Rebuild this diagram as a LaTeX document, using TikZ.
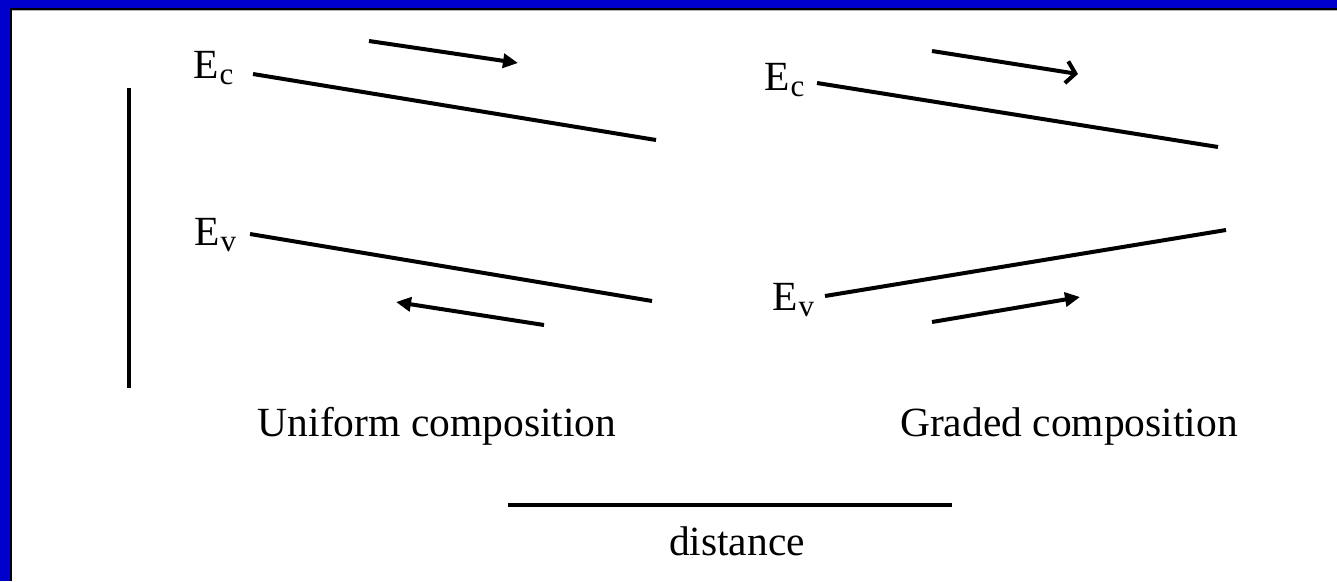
\documentclass[tikz,border=0pt]{standalone}
\usepackage{fontspec}
\setmainfont{Liberation Serif}
\usetikzlibrary{arrows.meta}
\definecolor{framblue}{RGB}{0,0,204}
\tikzset{
  band/.style={line width=4pt, line cap=butt},
  carrier/.style={line width=4pt, -{Triangle[length=15pt,width=14pt]}},
  opencarrier/.style={line width=4pt, -{Straight Barb[length=9pt,width=22pt,line width=4pt]}},
  lbl/.style={inner sep=0pt, font=\fontsize{41.5}{48}\selectfont},
}
\newcommand{\esub}[1]{E\kern1pt\raisebox{-6pt}{\fontsize{31}{36}\selectfont #1}}
\begin{document}
\begin{tikzpicture}[x=1pt,y=-1pt]
\useasboundingbox (0,0) rectangle (1337,581);
% frame: white page, blue band on top and left only
\fill[white] (0,0) rectangle (1337,581);
\fill[framblue] (0,0) rectangle (1337,8);
\fill[framblue] (0,0) rectangle (10,581);
\fill[black] (10,8) rectangle (1337,10);
\fill[black] (10,8) rectangle (12,581);
\fill[gray!60] (12,10) rectangle (1337,11);

% left vertical (energy) axis
\coordinate (ax1) at (129,88);
\coordinate (ax2) at (129,388);
\draw[band] (ax1) -- (ax2);

% left panel
\node[lbl, anchor=base west] (ecL) at (193,78) {\esub{c}};
\coordinate (ecL1) at (253,74);
\coordinate (ecL2) at (656,140);
\draw[band] (ecL1) -- (ecL2);
\coordinate (arL1a) at (369,41);
\coordinate (arL1b) at (518,63);
\draw[carrier] (arL1a) -- (arL1b);

\node[lbl, anchor=base west] (evL) at (194,245) {\esub{v}};
\coordinate (evL1) at (250,234);
\coordinate (evL2) at (652,301);
\draw[band] (evL1) -- (evL2);
\coordinate (arL2a) at (544,325);
\coordinate (arL2b) at (396,302);
\draw[carrier] (arL2a) -- (arL2b);

\node[lbl, anchor=base] (uni) at (437,436) {Uniform composition};

% right panel
\node[lbl, anchor=base west] (ecR) at (764,90) {\esub{c}};
\coordinate (ecR1) at (817,83);
\coordinate (ecR2) at (1218,147);
\draw[band] (ecR1) -- (ecR2);
\coordinate (arR1a) at (932,51);
\coordinate (arR1b) at (1078,74);
\draw[opencarrier] (arR1a) -- (arR1b);

\node[lbl, anchor=base west] (evR) at (772,310) {\esub{v}};
\coordinate (evR1) at (825,296);
\coordinate (evR2) at (1226,230);
\draw[band] (evR1) -- (evR2);
\coordinate (arR2a) at (932,322);
\coordinate (arR2b) at (1080,297);
\draw[carrier] (arR2a) -- (arR2b);

\node[lbl, anchor=base] (gra) at (1069,436) {Graded composition};

% distance scale
\coordinate (d1) at (508,505);
\coordinate (d2) at (952,505);
\draw[band] (d1) -- (d2);
\node[lbl, anchor=base] (dist) at (737,555) {distance};
\end{tikzpicture}
\end{document}
